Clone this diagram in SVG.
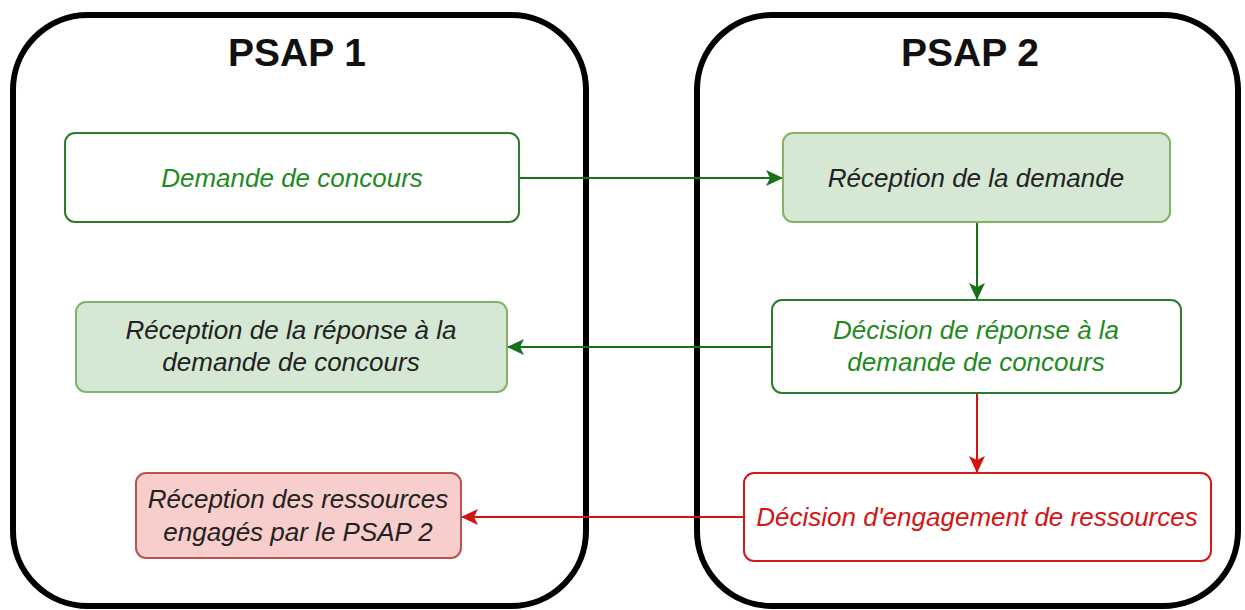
<svg xmlns="http://www.w3.org/2000/svg" width="1245" height="610" viewBox="0 0 1245 610">
<style>
.cont{fill:#ffffff;stroke:#000000;stroke-width:6}
.title{font-family:"Liberation Sans",Arial,sans-serif;font-weight:bold;font-size:39px;fill:#111111;text-anchor:middle}
.lbl{font-family:"Liberation Sans",Arial,sans-serif;font-style:italic;font-size:26px;text-anchor:middle}
.gw{fill:#ffffff;stroke:#2b7d2b;stroke-width:2}
.gf{fill:#d5e8d4;stroke:#82b366;stroke-width:2}
.rw{fill:#ffffff;stroke:#d81818;stroke-width:2}
.rf{fill:#f8cecc;stroke:#b85450;stroke-width:2}
.tg{fill:#1f8a1f}
.tk{fill:#222222}
.tr{fill:#d41515}
.cg{stroke:#17701a;stroke-width:2;fill:none}
.cr{stroke:#d41313;stroke-width:2;fill:none}
</style>
<defs>
<marker id="ag" markerUnits="userSpaceOnUse" markerWidth="20" markerHeight="18" refX="17" refY="8" orient="auto"><path d="M0,0 L17,8 L0,16 L4,8 Z" fill="#17701a"/></marker>
<marker id="ar" markerUnits="userSpaceOnUse" markerWidth="20" markerHeight="18" refX="17" refY="8" orient="auto"><path d="M0,0 L17,8 L0,16 L4,8 Z" fill="#d41313"/></marker>
</defs>
<g id="psap1">
<rect class="cont" x="13" y="15" width="573" height="591" rx="75"/>
<text class="title" x="297" y="66">PSAP 1</text>
</g>
<g id="psap2">
<rect class="cont" x="697" y="15" width="541" height="591" rx="75"/>
<text class="title" x="970" y="66">PSAP 2</text>
</g>
<g id="connectors">
<line class="cg" x1="519" y1="178" x2="783" y2="178" marker-end="url(#ag)"/>
<line class="cg" x1="977" y1="222" x2="977" y2="300" marker-end="url(#ag)"/>
<line class="cg" x1="772" y1="347" x2="507" y2="347" marker-end="url(#ag)"/>
<line class="cr" x1="977" y1="393" x2="977" y2="473" marker-end="url(#ar)"/>
<line class="cr" x1="744" y1="517" x2="461" y2="517" marker-end="url(#ar)"/>
</g>
<g id="n1">
<rect class="gw" x="65" y="133" width="454" height="89" rx="10"/>
<text class="lbl tg" x="292" y="187">Demande de concours</text>
</g>
<g id="n2">
<rect class="gf" x="783" y="133" width="387" height="89" rx="10"/>
<text class="lbl tk" x="976" y="187">Réception de la demande</text>
</g>
<g id="n3">
<rect class="gf" x="76" y="302" width="431" height="90" rx="10"/>
<text class="lbl tk" x="291" y="339">Réception de la réponse à la</text>
<text class="lbl tk" x="291" y="371">demande de concours</text>
</g>
<g id="n4">
<rect class="gw" x="772" y="300" width="409" height="93" rx="10"/>
<text class="lbl tg" x="976" y="339">Décision de réponse à la</text>
<text class="lbl tg" x="976" y="371">demande de concours</text>
</g>
<g id="n5">
<rect class="rw" x="744" y="473" width="467" height="88" rx="10"/>
<text class="lbl tr" x="977" y="526">Décision d'engagement de ressources</text>
</g>
<g id="n6">
<rect class="rf" x="136" y="473" width="325" height="85" rx="10"/>
<text class="lbl tk" x="298" y="508">Réception des ressources</text>
<text class="lbl tk" x="298" y="541">engagés par le PSAP 2</text>
</g>
</svg>
